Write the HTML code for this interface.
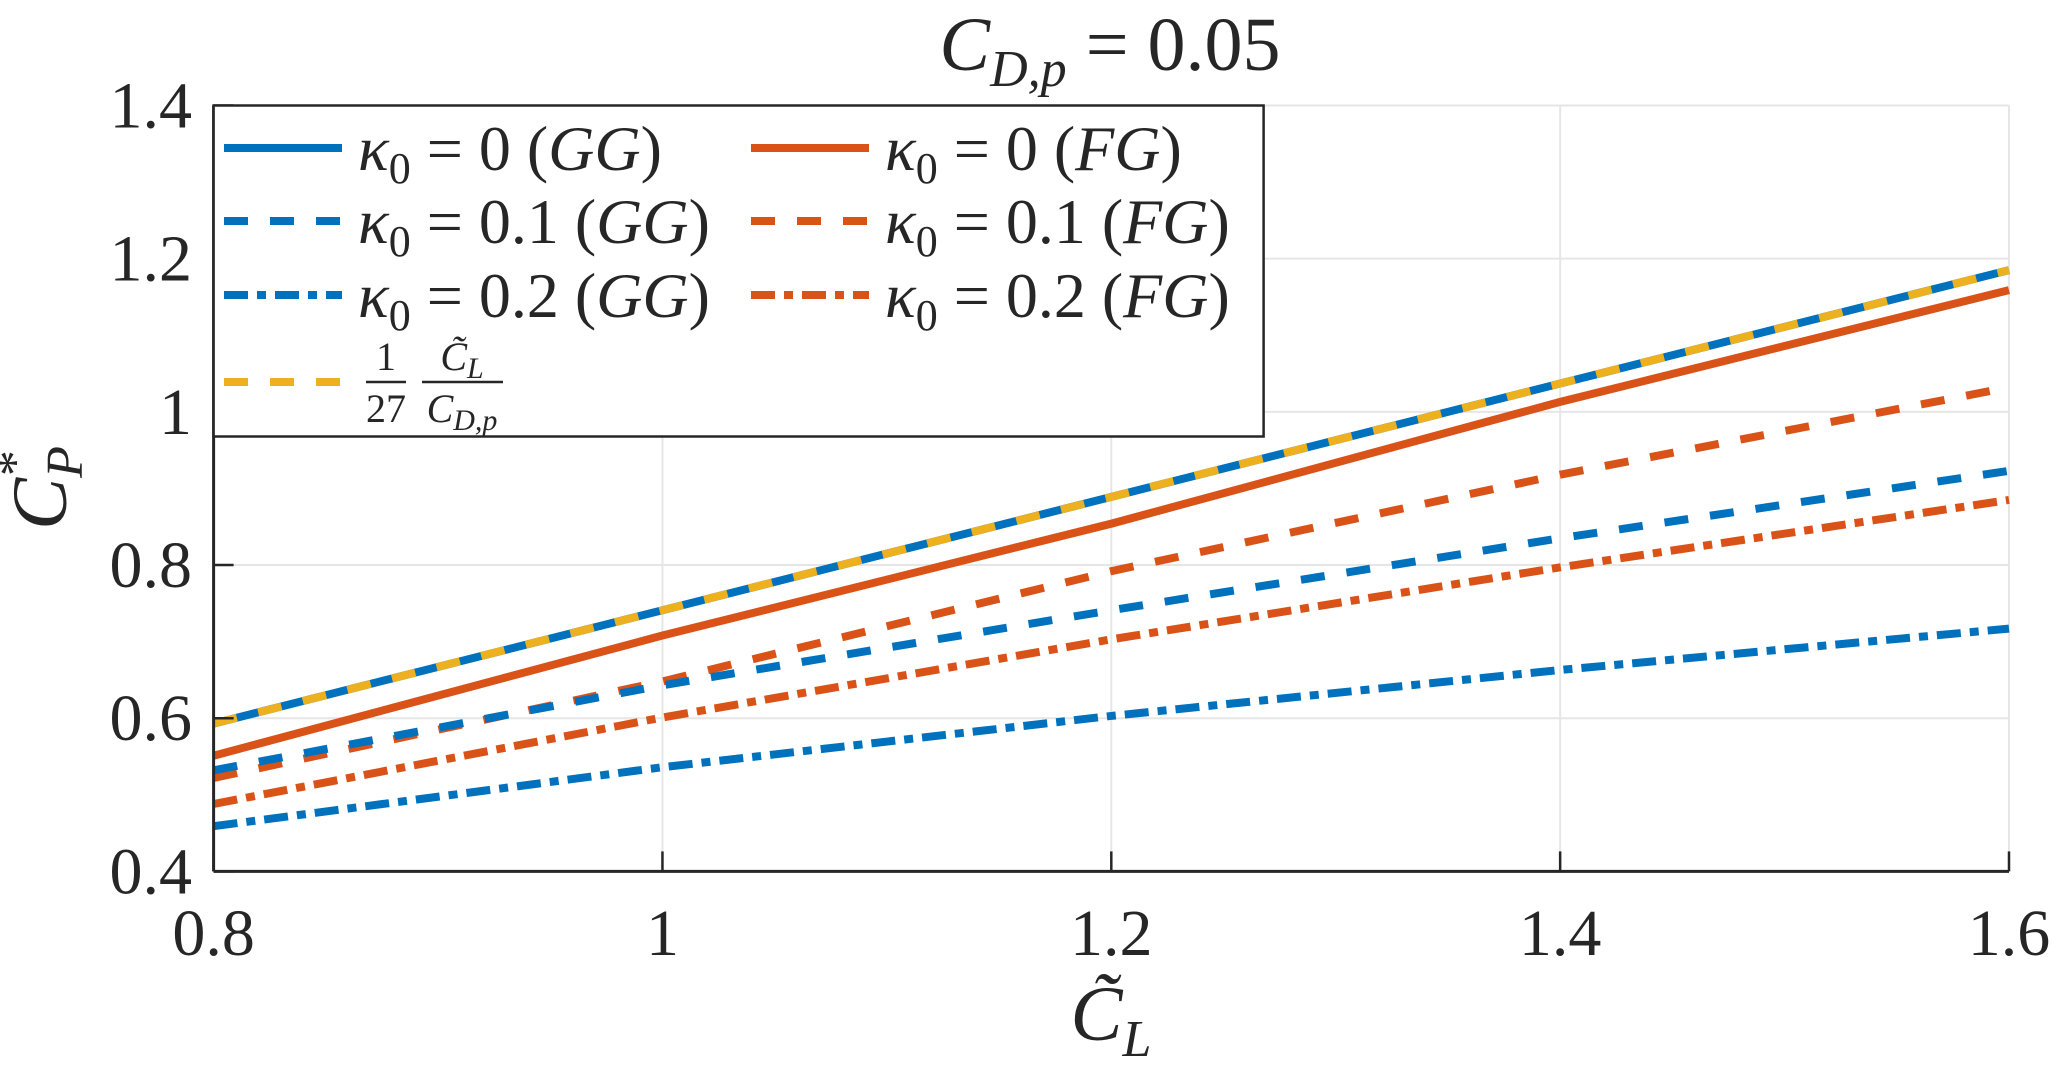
<!DOCTYPE html>
<html><head><meta charset="utf-8"><style>
html,body{margin:0;padding:0;background:#fff;}
svg{display:block;}
text{font-family:"Liberation Serif",serif;fill:#262626;}
.it{font-style:italic;}
</style></head><body>
<svg id="chart" width="2067" height="1075" viewBox="0 0 2067 1075">
<g id="grid"></g>
<g id="series"></g>
<g id="axes"></g>
<text x="1110" y="70" font-size="76" text-anchor="middle"><tspan class="it">C</tspan><tspan class="it" font-size="52" dy="16">D,p</tspan><tspan dy="-16"> = 0.05</tspan></text>
<text x="1111" y="1040" font-size="78" text-anchor="middle"><tspan class="it">C̃</tspan><tspan class="it" font-size="52" dy="16">L</tspan></text>
<text transform="translate(66,488) rotate(-90)" font-size="78" text-anchor="middle"><tspan class="it">C</tspan><tspan class="it" font-size="52" dy="16">P</tspan><tspan font-size="52" dx="-30" dy="-50">*</tspan></text>
<g id="legend"></g>
</svg>
<script>
const xVals=[0.8,1.0,1.2,1.4,1.6];
const gg0=[0.593,0.741,0.889,1.037,1.185];
const gg01=[0.532,0.643,0.741,0.835,0.923];
const gg02=[0.459,0.536,0.603,0.663,0.717];
const fg0=[0.551,0.708,0.854,1.013,1.159];
const fg01=[0.522,0.648,0.792,0.918,1.032];
const fg02=[0.488,0.601,0.703,0.797,0.885];
const ref=[0.593,0.741,0.889,1.037,1.185];
const xTicks=[0.8,1,1.2,1.4,1.6];
const xTickLabels=["0.8","1","1.2","1.4","1.6"];
const yTicks=[0.4,0.6,0.8,1,1.2,1.4];
const yTickLabels=["0.4","0.6","0.8","1","1.2","1.4"];

const L=213.6,R=2009,T=105.5,B=871.4;
const xs=v=>L+(v-0.8)/(1.6-0.8)*(R-L);
const ys=v=>B-(v-0.4)/(1.4-0.4)*(B-T);
const NS="http://www.w3.org/2000/svg";
function mk(tag,attrs,parent){const e=document.createElementNS(NS,tag);for(const k in attrs)e.setAttribute(k,attrs[k]);parent.appendChild(e);return e;}
const grid=document.getElementById('grid'),axes=document.getElementById('axes'),ser=document.getElementById('series'),leg=document.getElementById('legend');
xTicks.forEach((t,i)=>{
  const g=mk('line',{x1:xs(t),x2:xs(t),y1:T,y2:B,stroke:'#e6e6e6','stroke-width':2},grid);
  
  
  const tk=mk('line',{x1:xs(t),x2:xs(t),y1:B,y2:B-20,stroke:'#262626','stroke-width':2.5},axes);
  
  
  const tx=mk('text',{x:xs(t),y:955,'font-size':66,'text-anchor':'middle'},axes);
  tx.textContent=xTickLabels[i];
  
  
});
yTicks.forEach((t,i)=>{
  const g=mk('line',{x1:L,x2:R,y1:ys(t),y2:ys(t),stroke:'#e6e6e6','stroke-width':2},grid);
  
  
  const tk=mk('line',{x1:L,x2:L+20,y1:ys(t),y2:ys(t),stroke:'#262626','stroke-width':2.5},axes);
  
  
  const tx=mk('text',{x:192,y:ys(t)+22,'font-size':66,'text-anchor':'end'},axes);
  tx.textContent=yTickLabels[i];
  
  
});
const ax1=mk('line',{x1:L,x2:R,y1:B,y2:B,stroke:'#262626','stroke-width':3},axes);


const ax2=mk('line',{x1:L,x2:L,y1:T,y2:B,stroke:'#262626','stroke-width':3},axes);



const BLUE='#0072bd',RED='#d95319',YEL='#edb120';
const DASH='24 22',DD='24 9 9 9';
const series=[
 {d:fg0,c:RED,s:'',n:'line-fg-k0'},
 {d:fg01,c:RED,s:DASH,n:'line-fg-k01'},
 {d:fg02,c:RED,s:DD,n:'line-fg-k02'},
 {d:gg01,c:BLUE,s:DASH,n:'line-gg-k01'},
 {d:gg02,c:BLUE,s:DD,n:'line-gg-k02'},
 {d:gg0,c:BLUE,s:'',n:'line-gg-k0'},
 {d:ref,c:YEL,s:DASH,n:'line-reference'}
];
series.forEach(S=>{
  const pts=xVals.map((x,i)=>xs(x)+','+ys(S.d[i])).join(' ');
  const a={points:pts,fill:'none',stroke:S.c,'stroke-width':8};
  if(S.s)a['stroke-dasharray']=S.s;
  const p=mk('polyline',a,ser);
  
  
});

const box=mk('rect',{x:L,y:T,width:1050,height:331,fill:'#fff',stroke:'#262626','stroke-width':2.5},leg);


const entries=[
 {x:224,y:148,c:BLUE,s:'',t:'0',g:'GG'},
 {x:224,y:221,c:BLUE,s:DASH,t:'0.1',g:'GG'},
 {x:224,y:295,c:BLUE,s:DD,t:'0.2',g:'GG'},
 {x:751,y:148,c:RED,s:'',t:'0',g:'FG'},
 {x:751,y:221,c:RED,s:DASH,t:'0.1',g:'FG'},
 {x:751,y:295,c:RED,s:DD,t:'0.2',g:'FG'}
];
entries.forEach(E=>{
  const a={x1:E.x,x2:E.x+118,y1:E.y,y2:E.y,stroke:E.c,'stroke-width':8};
  if(E.s)a['stroke-dasharray']=E.s;
  const ln=mk('line',a,leg);
  
  
  const tx=mk('text',{x:E.x+134,y:E.y+22,'font-size':64},leg);
  tx.innerHTML='<tspan class="it">κ</tspan><tspan font-size="44" dy="13">0</tspan><tspan dy="-13"> = '+E.t+' (</tspan><tspan class="it">'+E.g+'</tspan><tspan>)</tspan>';
  
  
});
const rl=mk('line',{x1:224,x2:342,y1:382,y2:382,stroke:YEL,'stroke-width':8,'stroke-dasharray':DASH},leg);


const rg=mk('g',{},leg);


const t1=mk('text',{x:386,y:370,'font-size':40,'text-anchor':'middle'},rg);t1.textContent='1';
const t2=mk('text',{x:386,y:422,'font-size':40,'text-anchor':'middle'},rg);t2.textContent='27';
mk('line',{x1:366,x2:406,y1:382,y2:382,stroke:'#262626','stroke-width':2.5},rg);
const t3=mk('text',{x:462,y:370,'font-size':40,'text-anchor':'middle'},rg);t3.innerHTML='<tspan class="it">C̃</tspan><tspan class="it" font-size="30" dy="8">L</tspan>';
const t4=mk('text',{x:462,y:422,'font-size':40,'text-anchor':'middle'},rg);t4.innerHTML='<tspan class="it">C</tspan><tspan class="it" font-size="30" dy="8">D,p</tspan>';
mk('line',{x1:422,x2:503,y1:382,y2:382,stroke:'#262626','stroke-width':2.5},rg);
</script>
</body></html>
